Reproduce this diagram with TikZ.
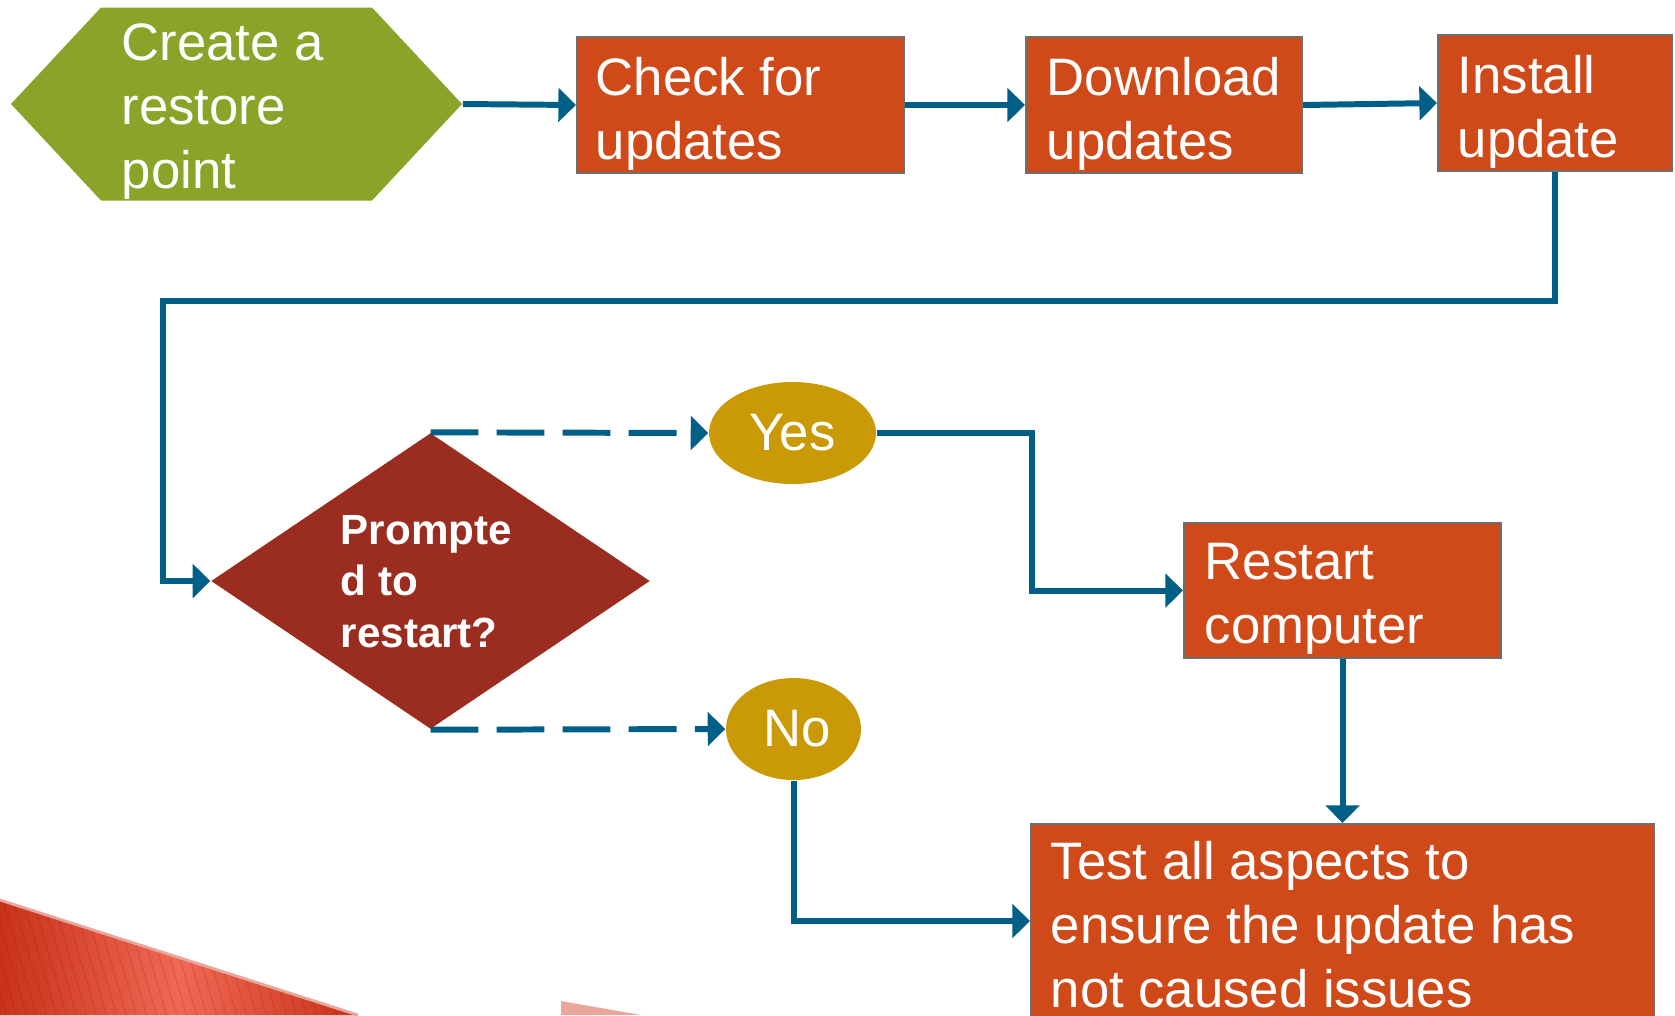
\documentclass[tikz,border=0pt]{standalone}
\usepackage{fontspec}
\setmainfont{Liberation Sans}
\usetikzlibrary{shapes.geometric,shapes.symbols,arrows.meta}

\definecolor{flowblue}{RGB}{0,95,135}
\definecolor{hexgreen}{RGB}{137,164,40}
\definecolor{boxorange}{RGB}{208,74,25}
\definecolor{decred}{RGB}{154,45,32}
\definecolor{gold}{RGB}{201,154,5}
\definecolor{edgegray}{RGB}{110,110,110}
\definecolor{cornerdark}{RGB}{200,50,25}
\definecolor{cornerlight}{RGB}{240,105,85}
\definecolor{cornerpink}{RGB}{234,166,155}

\begin{document}
\begin{tikzpicture}[
  flow/.style={draw=flowblue,line width=1.7pt,-{Triangle[length=5pt,width=9.5pt]}},
  dflow/.style={flow,dash pattern=on 13.6pt off 5.2pt},
  box/.style={draw=edgegray,line width=0.6pt,fill=boxorange,inner sep=0pt},
  hexa/.style={shape=signal,signal to=west and east,signal pointer angle=94,fill=hexgreen,inner sep=0pt,minimum width=4.51cm,minimum height=1.93cm},
  txt/.style={text=white,anchor=base west,align=left,inner sep=0pt,font=\fontsize{15}{18.2}\selectfont},
  oval/.style={ellipse,fill=gold,inner sep=0pt,text=white,font=\fontsize{15}{17}\selectfont}]
  \useasboundingbox (0,0) rectangle (16.75,-10.15);
  % corner decoration
  \fill[left color=cornerdark,right color=cornerdark,middle color=cornerlight] (0,-9.00) -- (3.58,-10.15) -- (0,-10.15) -- cycle;
  \begin{scope}
    \clip (0,-9.00) -- (3.58,-10.15) -- (0,-10.15) -- cycle;
    \foreach \i in {0,...,45}
      \draw[red!50!black,opacity=0.15,line width=0.3pt] (\i*0.1-0.4,-8.9) -- ++(0.38,-1.3);
  \end{scope}
  \draw[cornerpink,line width=0.8pt] (0,-9.00) -- (3.58,-10.15);
  \fill[cornerpink] (5.61,-10.01) -- (6.41,-10.15) -- (5.61,-10.15) -- cycle;
  % shapes
  \node[hexa] (crp) at (2.365,-1.04) {};
  \node[box,minimum width=3.27cm,minimum height=1.36cm] (chk) at (7.405,-1.05) {};
  \node[box,minimum width=2.76cm,minimum height=1.36cm] (dl) at (11.64,-1.05) {};
  \node[box,minimum width=2.34cm,minimum height=1.36cm] (ins) at (15.55,-1.03) {};
  \node[diamond,fill=decred,inner sep=0pt,minimum width=4.39cm,minimum height=2.96cm] (dec) at (4.305,-5.81) {};
  \node[oval,minimum width=1.67cm,minimum height=1.02cm] (yes) at (7.925,-4.33) {Yes};
  \node[oval,minimum width=1.35cm,minimum height=1.02cm] (no) at (7.935,-7.29) {\hspace{0.08cm}No};
  \node[box,minimum width=3.17cm,minimum height=1.35cm] (rst) at (13.425,-5.905) {};
  \node[box,minimum width=6.23cm,minimum height=1.94cm] (tst) at (13.425,-9.21) {};
  % texts (anchored at the last baseline)
  \node[txt] (crptxt) at (1.21,-1.88) {Create a\\restore\\point};
  \node[txt] (chktxt) at (5.95,-1.59) {Check for\\updates};
  \node[txt] (dltxt) at (10.46,-1.59) {Download\\updates};
  \node[txt] (instxt) at (14.57,-1.57) {Install\\update};
  \node[txt] (rsttxt) at (12.04,-6.43) {Restart\\computer};
  \node[txt] (tsttxt) at (10.50,-10.07) {Test all aspects to\\ensure the update has\\not caused issues};
  \node[txt,font=\fontsize{12}{14.6}\selectfont\bfseries] (dectxt) at (3.40,-6.47) {Prompte\\d to\\restart?};
  % connectors
  \coordinate (bend) at (1.63,-3.01);
  \draw[flow] (crp.east) -- (chk.west);
  \draw[flow] (chk.east) -- (dl.west);
  \draw[flow] (dl.east) -- (ins.west);
  \draw[flow] (ins.south) |- (bend) |- (dec.west);
  \draw[dflow] (dec.north) -- (yes.west);
  \draw[dflow] (dec.south) -- (no.west);
  \draw[flow] (yes.east) -- ++(1.55,0) |- (rst.west);
  \draw[flow] (rst.south) -- (tst.north);
  \draw[flow] (no.south) |- (tst.west);
\end{tikzpicture}
\end{document}
